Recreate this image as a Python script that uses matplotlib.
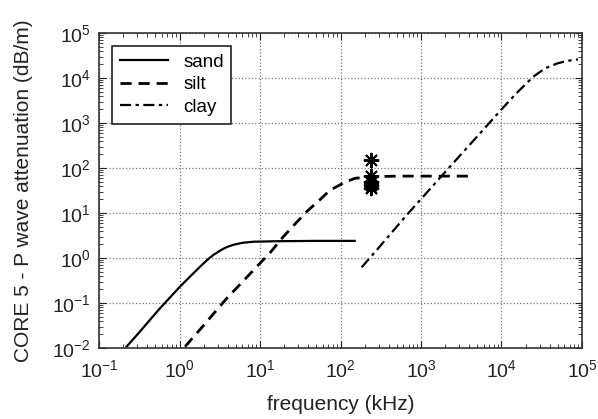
import matplotlib.pyplot as plt

plt.rcParams['font.family'] = ['Liberation Sans', 'DejaVu Sans']
plt.rcParams['mathtext.default'] = 'regular'

# values (frequency in kHz, attenuation in dB/m)
sand_f = [0.22, 0.3, 0.556, 1.01, 1.4, 1.8, 2.2, 2.63, 3.2, 3.5, 4.0, 4.66, 6.0, 8.3, 16, 50, 150]
sand_a = [0.0107, 0.02, 0.072, 0.23, 0.41, 0.64, 0.9, 1.17, 1.46, 1.6, 1.79, 1.96, 2.17, 2.3, 2.36, 2.4, 2.4]

silt_f = [1.17, 2.0, 3.86, 6.0, 9.1, 13.3, 19.5, 28, 38, 55, 74, 110, 151, 240, 500, 1000, 4300]
silt_a = [0.0107, 0.032, 0.127, 0.29, 0.64, 1.3, 2.98, 6.0, 10.7, 19.5, 32, 47, 59, 64, 66, 66, 66]

clay_f = [183, 300, 664, 1000, 2100, 5900, 10000, 15000, 24800, 35000, 49000, 65000, 89000]
clay_a = [0.62, 1.71, 9.0, 20.4, 90, 700, 2010, 4400, 10700, 16500, 21000, 24000, 26000]

meas_f = [240, 240, 240, 240, 240]
meas_a = [150, 66, 50, 42, 36]

fig = plt.figure(figsize=(5.98, 4.19), dpi=100)
ax = fig.add_axes([0.1656, 0.1695, 0.8076, 0.7517])

ax.loglog(sand_f, sand_a, '-', color='black', lw=1.6, label='sand')
ax.loglog(silt_f, silt_a, '--', color='black', lw=2.0, dashes=(4, 2.5), label='silt')
ax.loglog(clay_f, clay_a, '-.', color='black', lw=1.6, dashes=(5, 2, 1.5, 2), label='clay')
ax.loglog(meas_f, meas_a, linestyle='none', marker=(8, 2, 0), markersize=11,
          markeredgewidth=1.4, color='black')

ax.set_xlim(1e-1, 1e5)
ax.set_ylim(1e-2, 1e5)
ax.grid(True, which='major', linestyle=':', color='#777777', linewidth=0.9)

ax.tick_params(which='both', direction='in', top=True, right=True,
               labelsize=14, colors='#222222')
ax.tick_params(which='major', length=5)
ax.tick_params(axis='x', which='major', pad=8)
ax.tick_params(axis='y', which='major', pad=6)
ax.tick_params(which='minor', length=3)
for s in ax.spines.values():
    s.set_color('#333333')
    s.set_linewidth(1.2)

ax.set_xlabel('frequency (kHz)', fontsize=15, color='#222222', labelpad=10)
ax.set_ylabel('CORE 5 - P wave attenuation (dB/m)', fontsize=15, color='#222222', labelpad=14)

leg = ax.legend(loc='upper left', bbox_to_anchor=(0.027, 0.959), borderaxespad=0,
                fontsize=13.5, fancybox=False, edgecolor='#222222', framealpha=1,
                handlelength=2.6, labelspacing=0.3)
leg.get_frame().set_linewidth(1.2)

plt.savefig('out.png', dpi=100)
